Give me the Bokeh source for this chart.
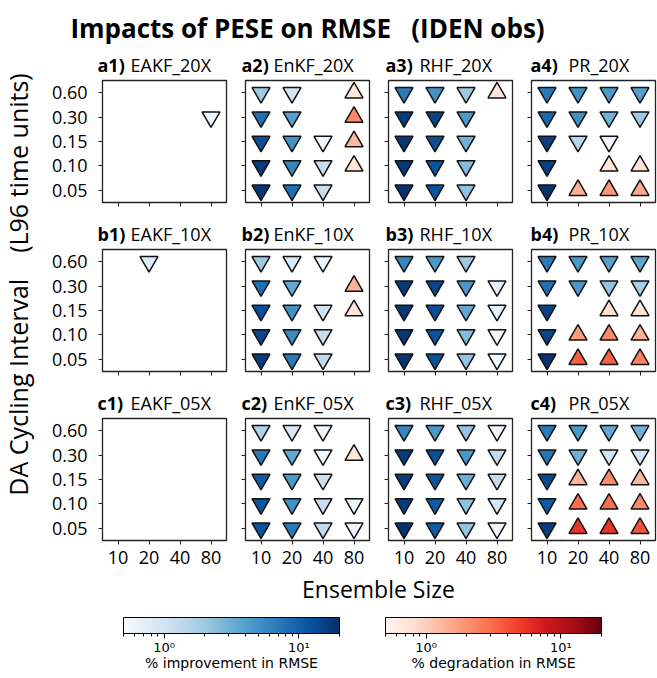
import math
from bokeh.plotting import figure
from bokeh.layouts import column, row
from bokeh.models import (ColumnDataSource, ColorBar, LogColorMapper,
                          FixedTicker, CustomJSTickFormatter, Range1d)
from bokeh.palettes import Blues256, Reds256
from bokeh.core.properties import value
from bokeh.embed import file_html
from bokeh.resources import INLINE

N = None
ENS = ["10", "20", "40", "80"]
INTERVALS = ["0.05", "0.10", "0.15", "0.30", "0.60"]
ROWS_TOP_DOWN = ["0.60", "0.30", "0.15", "0.10", "0.05"]

PANEL_IDS = [["a1", "a2", "a3", "a4"], ["b1", "b2", "b3", "b4"], ["c1", "c2", "c3", "c4"]]
PANEL_NAMES = [["EAKF_20X", "EnKF_20X", "RHF_20X", "PR_20X"],
               ["EAKF_10X", "EnKF_10X", "RHF_10X", "PR_10X"],
               ["EAKF_05X", "EnKF_05X", "RHF_05X", "PR_05X"]]

# % change in RMSE (negative = improvement, positive = degradation); rows top-down 0.60..0.05
EAKF_20X = [[N, N, N, N], [N, N, N, -0.6], [N, N, N, N], [N, N, N, N], [N, N, N, N]]
EnKF_20X = [[-2.0, -1.0, N, 0.7], [-8, -4, N, 2.2], [-13, -5, -0.6, 1.3], [-17, -6, -1.2, 0.7], [-18, -8, -1.2, N]]
RHF_20X = [[-7, -5, -2, 0.7], [-17, -15, -4.5, N], [-18, -13, -3, N], [-18, -12, -2.5, N], [-19, -12, -2.3, N]]
PR_20X = [[-7, -5, -4.5, -4], [-9, -5, -3, -2], [-16, -1.5, -0.6, N], [-16, N, 0.7, 0.7], [-19, 1.4, 1.9, 1.5]]

EAKF_10X = [[N, -0.8, N, N], [N, N, N, N], [N, N, N, N], [N, N, N, N], [N, N, N, N]]
EnKF_10X = [[-2, -0.9, -0.6, N], [-8, -3.5, N, 1.4], [-13, -5, -1.0, 0.7], [-15, -5.5, -1.2, N], [-17, -7, -1.3, N]]
RHF_10X = [[-6, -4.5, -2, N], [-17, -15, -4.5, -0.7], [-18, -13, -3.5, -0.7], [-18, -12, -2.5, -0.55], [-19, -12, -2.2, -0.55]]
PR_10X = [[-7, -4.5, -4, -3.5], [-8, -4.5, -2.2, -1.8], [-16, N, 0.8, 0.7], [-15, 1.8, 2.2, 1.4], [-19, 3.5, 3.5, 2.5]]

EAKF_05X = [[N, N, N, N], [N, N, N, N], [N, N, N, N], [N, N, N, N], [N, N, N, N]]
EnKF_05X = [[-1.6, -0.9, -0.6, N], [-7, -3.5, -0.6, 0.7], [-11, -4.5, -1.1, N], [-12, -5, -1.2, -0.6], [-12, -7, -1.3, -0.6]]
RHF_05X = [[-6, -4.5, -2.2, -0.6], [-17, -13, -4.5, -1.3], [-17, -12, -3.2, -1.3], [-17, -11, -2.3, -0.9], [-19, -11, -2.2, -0.6]]
PR_05X = [[-7, -4.5, -3.5, -3], [-7.5, -3, -1, -0.9], [-14, 1.4, 2.2, 1.3], [-11, 3, 3, 2.2], [-17, 5.5, 5.5, 4]]

PANEL_DATA = [[EAKF_20X, EnKF_20X, RHF_20X, PR_20X],
              [EAKF_10X, EnKF_10X, RHF_10X, PR_10X],
              [EAKF_05X, EnKF_05X, RHF_05X, PR_05X]]

CB_LOW, CB_HIGH = 0.5, 20
NB = "\u00a0"
TITLE = "Impacts of PESE on RMSE" + NB * 3 + "(IDEN obs)"
YLABEL = "DA Cycling Interval" + NB * 4 + "(L96 time units)"
XLABEL = "Ensemble Size"
CB_LABELS = ["% improvement in RMSE", "% degradation in RMSE"]

FONT = "Open Sans"
blue_pal = list(reversed(Blues256))
red_pal = list(reversed(Reds256))
blue_mapper = LogColorMapper(palette=blue_pal, low=CB_LOW, high=CB_HIGH)
red_mapper = LogColorMapper(palette=red_pal, low=CB_LOW, high=CB_HIGH)

FRAME_W, FRAME_H = 124, 122
LEFT_BORDERS = [57, 15, 15, 15]
RIGHT_BORDERS = [4, 4, 4, 2]
PLOT_LEFTS = [57, 200, 343, 486]      # frame lefts inside the 612-px grid
BOLD_OFF = [-5, -4, -3, -1]
NAME_OFF = [28, 28, 31, 37]
GRID_W = 612
STRIP_H = 28
LAST_BOTTOM = 32


def blank_fig(w, h):
    p = figure(width=w, height=h, x_range=Range1d(0, w), y_range=Range1d(0, h),
               output_backend="svg", toolbar_location=None, x_axis_type=None, y_axis_type=None,
               min_border=0, title=None)
    p.outline_line_color = None
    p.grid.visible = False
    p.background_fill_color = "white"
    p.border_fill_color = "white"
    return p


def make_panel(r, c):
    last_row = (r == 2)
    p = figure(x_range=ENS, y_range=INTERVALS, frame_width=FRAME_W, frame_height=FRAME_H,
               output_backend="svg", toolbar_location=None, title=None,
               min_border_left=LEFT_BORDERS[c], min_border_right=RIGHT_BORDERS[c],
               min_border_top=2, min_border_bottom=LAST_BOTTOM if last_row else 17)
    p.x_range.range_padding = 0
    p.y_range.range_padding = 0
    p.grid.visible = False
    p.outline_line_color = "#222222"
    p.outline_line_width = 1.3
    p.background_fill_color = "white"
    p.border_fill_color = "white"
    for ax in (p.xaxis, p.yaxis):
        ax.axis_line_color = None
        ax.major_tick_in = 0
        ax.major_tick_out = 4
        ax.major_tick_line_color = "#222222"
        ax.major_tick_line_width = 1
        ax.major_label_text_font = FONT
        ax.major_label_text_font_size = "18px"
        ax.major_label_text_color = "black"
        ax.major_label_standoff = 6
    p.yaxis.major_label_standoff = 11
    if not last_row:
        p.xaxis.major_label_text_color = None
        p.xaxis.major_label_text_font_size = "1px"
        p.xaxis.major_label_standoff = 0
    if c != 0:
        p.yaxis.major_label_text_color = None
        p.yaxis.major_label_text_font_size = "1px"
        p.yaxis.major_label_standoff = 0

    vals = PANEL_DATA[r][c]
    imp = dict(x=[], y=[], v=[])
    deg = dict(x=[], y=[], v=[])
    for i, yv in enumerate(ROWS_TOP_DOWN):
        for j, xv in enumerate(ENS):
            v = vals[i][j]
            if v is None:
                continue
            d = imp if v < 0 else deg
            d["x"].append(xv)
            d["y"].append(yv)
            d["v"].append(abs(v))
    p.scatter(x="x", y="y", source=ColumnDataSource(imp), marker="inverted_triangle", size=18,
              fill_color={"field": "v", "transform": blue_mapper}, line_color="#111111", line_width=1.5)
    p.scatter(x="x", y="y", source=ColumnDataSource(deg), marker="triangle", size=18,
              fill_color={"field": "v", "transform": red_mapper}, line_color="#111111", line_width=1.5)
    return p


def title_strip(r):
    s = blank_fig(GRID_W, STRIP_H)
    bx = [PLOT_LEFTS[c] + BOLD_OFF[c] for c in range(4)]
    nx = [PLOT_LEFTS[c] + NAME_OFF[c] for c in range(4)]
    s.text(x=bx, y=[14] * 4, text=[pid + ")" for pid in PANEL_IDS[r]], text_font=value(FONT),
           text_font_style="bold", text_font_size="18px", text_baseline="alphabetic", text_color="black")
    s.text(x=nx, y=[14] * 4, text=PANEL_NAMES[r], text_font=value(FONT),
           text_font_size="18px", text_baseline="alphabetic", text_color="black")
    return s


header = blank_fig(657, 50)
header.text(x=[307], y=[23], text=[TITLE], text_font=value(FONT),
            text_font_style="bold", text_font_size="26px", text_align="center",
            text_baseline="alphabetic", text_color="black")

blocks = []
for r in range(3):
    blocks.append(title_strip(r))
    blocks.append(row(*[make_panel(r, c) for c in range(4)]))
grid = column(*blocks)
GRID_H = 3 * STRIP_H + 2 * (2 + FRAME_H + 17) + (2 + FRAME_H + LAST_BOTTOM)

ylab = blank_fig(45, GRID_H)
ylab.text(x=[17], y=[GRID_H - 234], text=[YLABEL], angle=math.pi / 2, text_font=value(FONT),
          text_font_size="25px", text_align="center", text_baseline="middle", text_color="black")

FOOT_H = 678 - 50 - GRID_H
footer = blank_fig(657, FOOT_H)
footer.text(x=[378], y=[FOOT_H - 16], text=[XLABEL], text_font=value(FONT), text_font_size="23px",
            text_align="center", text_baseline="alphabetic", text_color="black")

fmt = CustomJSTickFormatter(code="""
const e = Math.round(Math.log10(tick));
const s = {'-1': '\u207b\u00b9', '0': '\u2070', '1': '\u00b9', '2': '\u00b2'};
return '10' + s[String(e)];
""")
minor = [0.5, 0.6, 0.7, 0.8, 0.9, 2, 3, 4, 5, 6, 7, 8, 9, 20]
for mapper, x0, lab in ((blue_mapper, 123, CB_LABELS[0]), (red_mapper, 385, CB_LABELS[1])):
    cb = ColorBar(color_mapper=mapper, orientation="horizontal", location=(x0, 21),
                  width=216, height=16, padding=0,
                  ticker=FixedTicker(ticks=[1, 10], minor_ticks=minor), formatter=fmt,
                  major_tick_in=0, major_tick_out=5, minor_tick_in=0, minor_tick_out=3,
                  major_tick_line_color="black", minor_tick_line_color="black",
                  bar_line_color="black", bar_line_width=1,
                  label_standoff=1, major_label_text_font="DejaVu Sans",
                  major_label_text_font_size="13px", major_label_text_color="black",
                  background_fill_alpha=0, border_line_color=None)
    footer.add_layout(cb, "center")
    footer.text(x=[x0 + 108], y=[16], text=[lab], text_font=value("DejaVu Sans"),
                text_font_size="14px", text_align="center", text_baseline="middle", text_color="black")

layout = column(header, row(ylab, grid), footer)
open("out.html", "w").write(file_html(layout, INLINE))
